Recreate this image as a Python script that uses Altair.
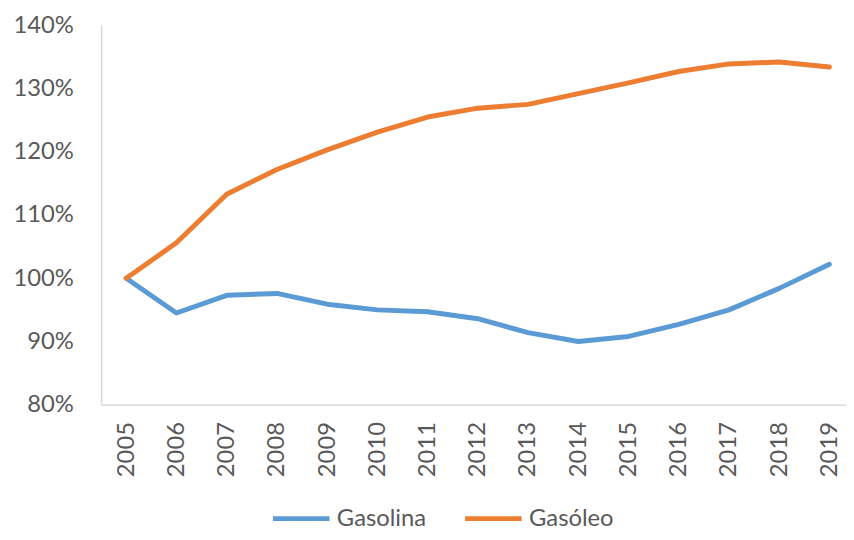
import altair as alt
import pandas as pd

years = list(range(2005, 2020))
gasolina = [1.000, 0.945, 0.973, 0.976, 0.959, 0.950, 0.947, 0.936, 0.914, 0.900, 0.908, 0.927, 0.950, 0.984, 1.022]
gasoleo = [1.000, 1.056, 1.133, 1.172, 1.203, 1.231, 1.255, 1.269, 1.275, 1.292, 1.309, 1.327, 1.339, 1.342, 1.334]
series = ["Gasolina", "Gasóleo"]
colors = ["#5B9BD5", "#ED7D31"]
y_ticks = [0.8, 0.9, 1.0, 1.1, 1.2, 1.3, 1.4]

rows = []
for i, yr in enumerate(years):
    rows.append({"year": yr, "serie": series[0], "value": gasolina[i]})
    rows.append({"year": yr, "serie": series[1], "value": gasoleo[i]})
df = pd.DataFrame(rows)

FONT = "Lato"
GRAY = "#595959"

chart = alt.Chart(df).mark_line(strokeWidth=5, clip=False, strokeCap="round", strokeJoin="round").encode(
    x=alt.X("year:Q",
            scale=alt.Scale(domain=[2004.5, 2019.33], nice=False, zero=False),
            axis=alt.Axis(values=years, format="d", labelAngle=-90, labelAlign="right",
                          labelBaseline="middle", ticks=False, grid=False, title=None,
                          labelPadding=17, labelFontSize=24, labelFont=FONT,
                          labelColor=GRAY, domainColor="#D9D9D9", domainWidth=1.5,
                          labelOverlap=False)),
    y=alt.Y("value:Q",
            scale=alt.Scale(domain=[0.8, 1.4], nice=False, zero=False),
            axis=alt.Axis(values=y_ticks, format=".0%", ticks=False, grid=False, title=None,
                          labelPadding=28, labelFontSize=24, labelFont=FONT,
                          labelColor=GRAY, domainColor="#D9D9D9", domainWidth=1.5)),
    color=alt.Color("serie:N",
                    scale=alt.Scale(domain=series, range=colors),
                    legend=alt.Legend(title=None, orient="none", direction="horizontal",
                                      legendX=171, legendY=467,
                                      symbolType="stroke", symbolSize=3249,
                                      symbolStrokeWidth=5, labelFontSize=24,
                                      labelFont=FONT, labelColor=GRAY,
                                      labelOffset=5, columnPadding=28)),
).properties(
    width=752,
    height=383,
    autosize=alt.AutoSizeParams(type="none"),
    padding={"left": 94, "top": 15, "right": 0, "bottom": 126},
).configure_view(stroke=None)

chart.save("out.html", embed_options={"renderer": "svg", "actions": False})
